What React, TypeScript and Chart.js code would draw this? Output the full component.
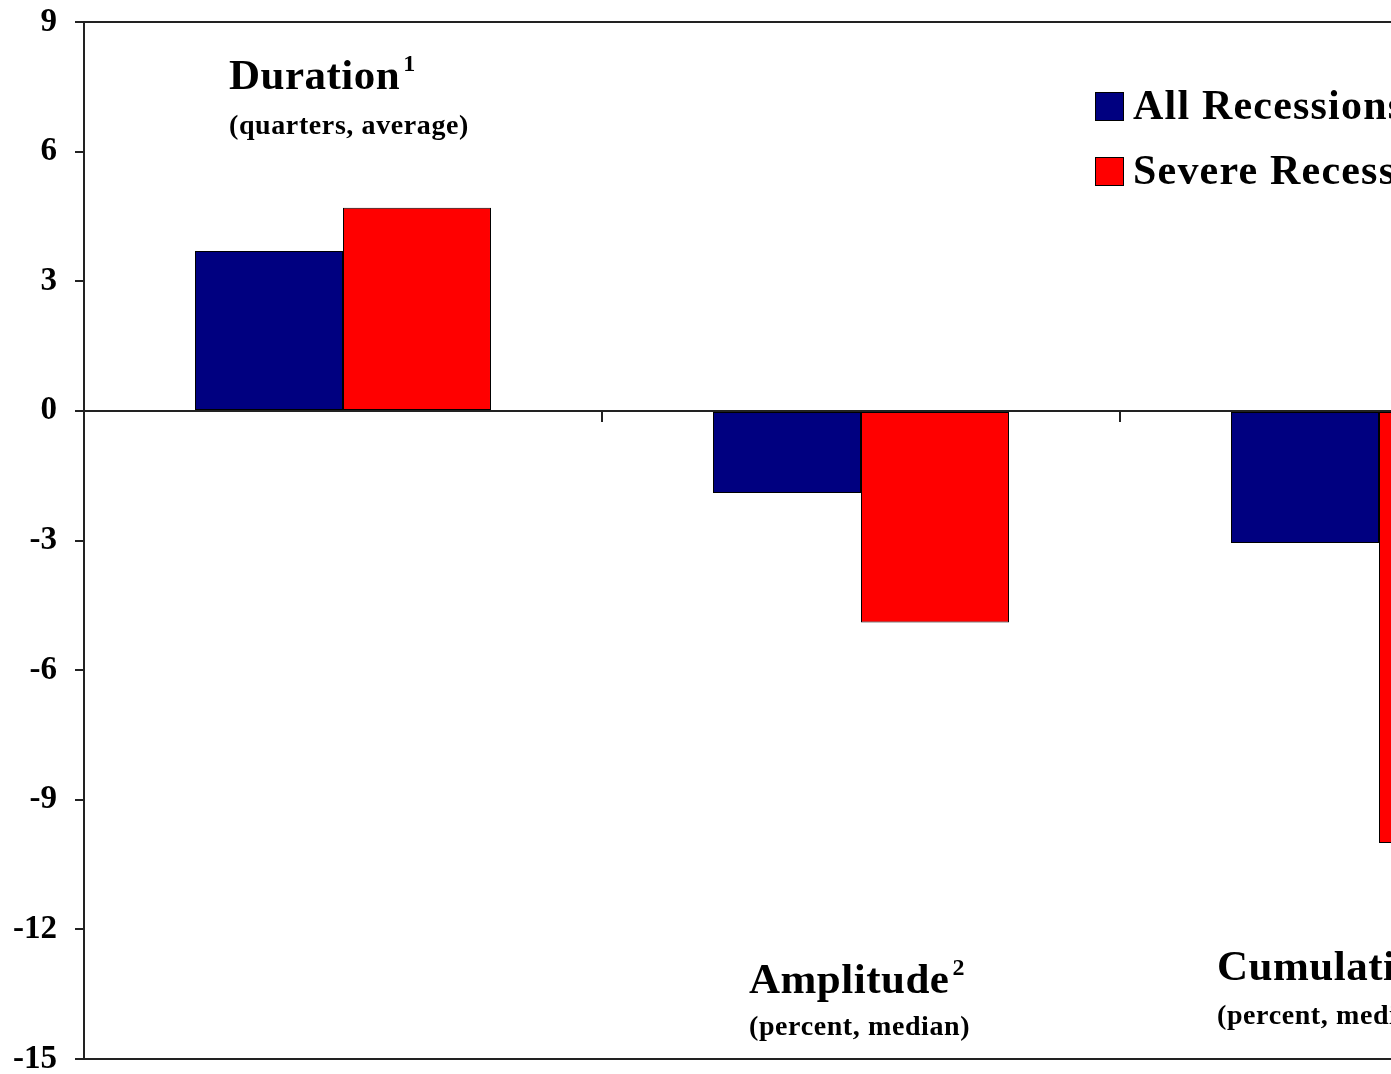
import { useEffect, useRef } from 'react';
import { Chart, registerables } from 'chart.js';

Chart.register(...registerables);

const SERIF = "'Liberation Serif', 'Times New Roman', serif";

// ---- data ----
const categories = ['Duration', 'Amplitude', 'Cumulative Loss'];
const seriesNames = ['All Recessions', 'Severe Recessions'];
const allRecessions = [3.7, -1.9, -3.06];
const severeRecessions = [4.7, -4.9, -10.0];
const yMin = -15;
const yMax = 9;
const yStep = 3;
const superscripts = ['1', '2', '3'];
const subtitles = ['(quarters, average)', '(percent, median)', '(percent, median)'];

// ---- styling / layout (not data) ----
const seriesColors = ['#000080', '#FF0000'];
const titlePos = [
  [229, 89],
  [749, 993],
  [1217, 980],
];
const subOffset = [45, 42, 44];

export default function App() {
  const ref = useRef<HTMLCanvasElement>(null);

  useEffect(() => {
    const canvas = ref.current!;
    const annotationPlugin = {
      id: 'annotations',
      afterDraw(chart: any) {
        const ctx = chart.ctx as any;
        ctx.save();
        ctx.fillStyle = '#000';
        ctx.textAlign = 'left';
        ctx.textBaseline = 'alphabetic';
        categories.forEach((t, i) => {
          const [x, y] = titlePos[i];
          ctx.letterSpacing = '0.5px';
          ctx.font = `bold 43px ${SERIF}`;
          ctx.fillText(t, x, y);
          const w = ctx.measureText(t).width;
          ctx.letterSpacing = '0px';
          ctx.font = `bold 24px ${SERIF}`;
          ctx.fillText(superscripts[i], x + w + 3, y - 18);
          ctx.letterSpacing = '0.6px';
          ctx.font = `bold 28px ${SERIF}`;
          ctx.fillText(subtitles[i], x, y + subOffset[i]);
        });
        // legend
        const lx = 1095;
        const ly = [92, 157];
        seriesNames.forEach((name, i) => {
          ctx.fillStyle = seriesColors[i];
          ctx.fillRect(lx, ly[i], 29, 29);
          ctx.strokeStyle = '#000';
          ctx.lineWidth = 1;
          ctx.strokeRect(lx + 0.5, ly[i] + 0.5, 28, 28);
          ctx.fillStyle = '#000';
          ctx.letterSpacing = '1.2px';
          ctx.font = `bold 42px ${SERIF}`;
          ctx.fillText(name, 1133, ly[i] + 27);
        });
        ctx.letterSpacing = '0px';
        ctx.restore();
      },
    };

    const chart = new Chart(canvas, {
      type: 'bar',
      data: {
        labels: categories,
        datasets: [
          {
            label: seriesNames[0],
            data: allRecessions,
            backgroundColor: seriesColors[0],
            borderColor: '#000',
            borderWidth: 1,
            borderSkipped: false,
          },
          {
            label: seriesNames[1],
            data: severeRecessions,
            backgroundColor: seriesColors[1],
            borderColor: '#000',
            borderWidth: 1,
            borderSkipped: false,
          },
        ],
      },
      options: {
        responsive: false,
        animation: false,
        devicePixelRatio: 1,
        layout: { padding: { top: 22, right: 62, bottom: 41, left: 0 } },
        datasets: { bar: { categoryPercentage: 0.5714, barPercentage: 1 } },
        plugins: { legend: { display: false }, tooltip: { enabled: false } },
        scales: {
          x: {
            position: { y: 0 } as any,
            grid: {
              drawOnChartArea: false,
              drawTicks: true,
              tickLength: 10,
              color: '#222',
              lineWidth: 2,
              offset: true,
            },
            border: { display: true, color: '#222', width: 2 },
            ticks: { display: false },
            afterFit: (s: any) => {
              s.height = 0;
              s.paddingTop = 0;
              s.paddingBottom = 0;
              s.paddingLeft = 0;
              s.paddingRight = 0;
            },
          },
          y: {
            min: yMin,
            max: yMax,
            ticks: {
              stepSize: yStep,
              color: '#000',
              padding: 18,
              font: { family: SERIF, size: 33, weight: 'bold' },
            },
            grid: {
              color: (c: any) =>
                c.tick && [yMax, 0, yMin].includes(c.tick.value) ? '#222' : 'rgba(0,0,0,0)',
              tickColor: '#222',
              tickLength: 9,
              lineWidth: 2,
            },
            border: { display: true, color: '#222', width: 2 },
            afterFit: (s: any) => {
              s.width = 84;
              s.paddingTop = 0;
              s.paddingBottom = 0;
            },
          },
        },
      } as any,
      plugins: [annotationPlugin],
    });
    return () => chart.destroy();
  }, []);

  return (
    <div
      style={{
        position: 'fixed',
        left: 0,
        top: 0,
        width: 1391,
        height: 1074,
        overflow: 'hidden',
        background: '#fff',
      }}
    >
      <canvas ref={ref} width={1700} height={1100} style={{ display: 'block', width: 1700, height: 1100 }} />
    </div>
  );
}
